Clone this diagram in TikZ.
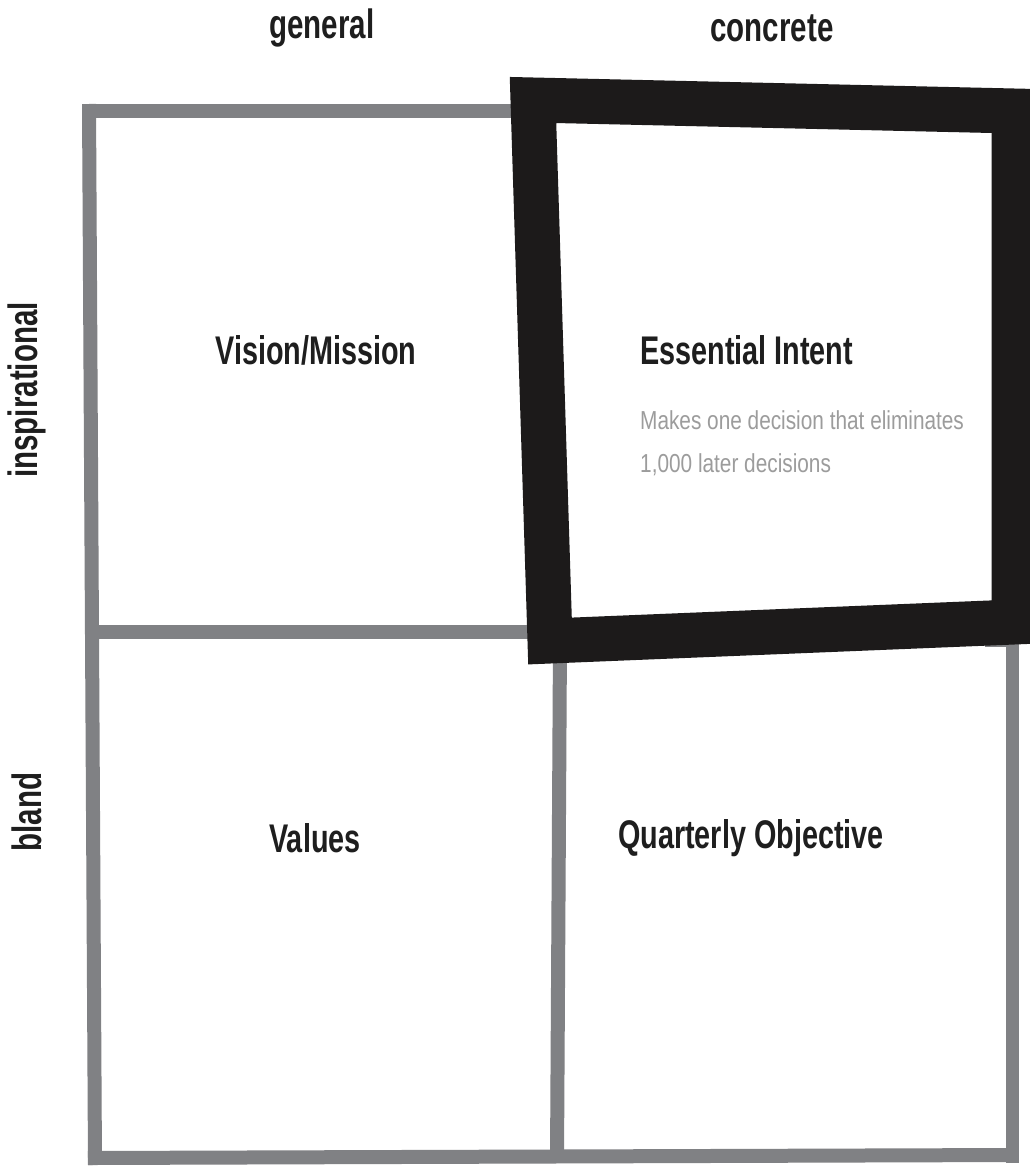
\documentclass[tikz,border=0pt]{standalone}
\usepackage{fontspec}
\setmainfont{Liberation Sans}[FakeStretch=0.72]
\newfontfamily\subfamily{Liberation Sans}[FakeStretch=0.8]
\definecolor{gridgray}{HTML}{808184}
\definecolor{inkblack}{HTML}{1C1A1A}
\definecolor{subgray}{HTML}{9C9C9C}
\definecolor{textblack}{HTML}{1E1E1E}
\begin{document}
\begin{tikzpicture}[x=1pt,y=-1pt,
  gridline/.style={draw=gridgray,line width=14pt},
  boldbox/.style={draw=inkblack,line width=45pt,line join=miter},
  head/.style={font=\bfseries\fontsize{40}{40}\selectfont,text=textblack,inner sep=0pt},
  axis/.style={font=\bfseries\fontsize{41}{41}\selectfont,text=textblack,inner sep=0pt},
  sub/.style={font=\subfamily\fontsize{26}{26}\selectfont,text=subgray,inner sep=0pt,anchor=west}]
\useasboundingbox[fill=white] (0,0) rectangle (1029,1167);
% gray grid
\draw[gridline] (89,104) -- (95,1165);
\draw[gridline] (82,111) -- (522,111);
\draw[gridline] (96,632) -- (540,632);
\draw[gridline] (560,640) -- (557,1160);
\draw[gridline,line width=13pt] (1012,630) -- (1012,1163);
\draw[gridline] (88,1158) -- (1015,1155);
\draw[gridline,line width=12pt] (985,641) -- (1015,641);
% black emphasised square
\draw[boldbox] (533,100) -- (1014,111) -- (1014,622) -- (550,641) -- cycle;
% axis labels
\node[axis] (general) at (322,28) {general};
\node[axis] (concrete) at (772,28) {concrete};
\node[axis,rotate=90] (inspirational) at (27,390) {inspirational};
\node[axis,rotate=90] (bland) at (27,812) {bland};
% quadrant labels
\node[head] (vision) at (316,350) {Vision/Mission};
\node[head,anchor=west] (intent) at (640,350) {Essential Intent};
\node[sub] (sub1) at (640,420) {Makes one decision that eliminates};
\node[sub] (sub2) at (640,465) {1,000 later decisions};
\node[head] (values) at (315,838) {Values};
\node[head] (quarterly) at (751,838) {Quarterly Objective};
\end{tikzpicture}
\end{document}
